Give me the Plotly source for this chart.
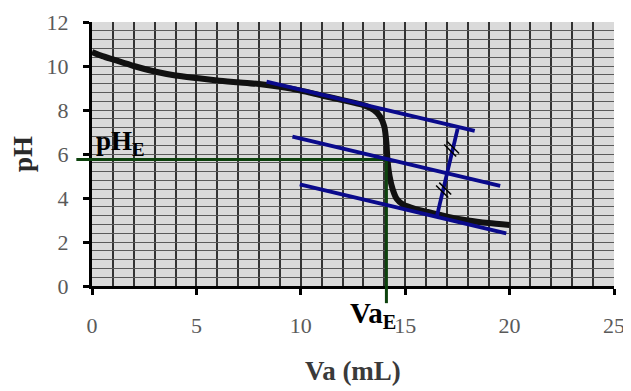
import plotly.graph_objects as go

# Titration curve
va = [0, 0.5, 1, 2, 3, 4, 5, 6, 7, 8, 9, 10, 11, 12, 13, 13.5, 13.8, 14.0, 14.1, 14.15,
      14.25, 14.4, 14.6, 14.9, 15.5, 16, 17, 18, 19, 20]
ph = [10.64, 10.45, 10.3, 10.0, 9.75, 9.57, 9.45, 9.34, 9.26, 9.18, 9.05, 8.88, 8.66, 8.45,
      8.22, 8.0, 7.7, 7.25, 6.5, 5.75, 5.0, 4.4, 3.95, 3.7, 3.5, 3.38, 3.15, 2.98, 2.86, 2.77]

# Equivalence point
va_e = 14.1
ph_e = 5.75

# Parallel tangent lines (x0, x1), (y0, y1)
tan_upper_x = [8.36, 18.33]
tan_upper_y = [9.29, 7.05]
tan_mid_x = [9.6, 19.55]
tan_mid_y = [6.79, 4.55]
tan_lower_x = [9.95, 19.84]
tan_lower_y = [4.62, 2.39]
perp_x = [17.51, 16.51]
perp_y = [7.14, 3.14]

# Equal-length hatch marks (double ticks)
hatch_x = [[17.01, 17.58], [16.87, 17.44], [16.63, 17.20], [16.48, 17.06]]
hatch_y = [[6.57, 6.02], [6.43, 5.89], [4.70, 4.16], [4.57, 4.02]]

x_ticks = [0, 5, 10, 15, 20, 25]
y_ticks = [0, 2, 4, 6, 8, 10, 12]

BLUE = "#0a0a8c"
GREEN = "#0d420d"
SERIF = "Liberation Serif"

fig = go.Figure()

fig.add_trace(go.Scatter(x=va, y=ph, mode="lines", line=dict(color="#111111", width=6, shape="spline", smoothing=0.6),
                         hoverinfo="skip"))

# green guide lines (inside plot)
fig.add_trace(go.Scatter(x=[0, va_e], y=[ph_e, ph_e], mode="lines", line=dict(color=GREEN, width=3)))
fig.add_trace(go.Scatter(x=[va_e, va_e], y=[0, ph_e], mode="lines", line=dict(color=GREEN, width=3)))

for xs, ys in [(tan_upper_x, tan_upper_y), (tan_mid_x, tan_mid_y), (tan_lower_x, tan_lower_y), (perp_x, perp_y)]:
    fig.add_trace(go.Scatter(x=xs, y=ys, mode="lines", line=dict(color=BLUE, width=3.8)))

for xs, ys in zip(hatch_x, hatch_y):
    fig.add_trace(go.Scatter(x=xs, y=ys, mode="lines", line=dict(color="black", width=1.5)))

# green stubs extending outside the axes
fig.add_shape(type="line", xref="paper", yref="y", x0=-0.03, x1=0, y0=ph_e, y1=ph_e,
              line=dict(color=GREEN, width=3), layer="above")
fig.add_shape(type="line", xref="x", yref="paper", x0=va_e, x1=va_e, y0=-0.065, y1=0,
              line=dict(color=GREEN, width=3), layer="above")

fig.add_annotation(x=0.1, y=ph_e, xref="x", yref="y", text="pH<sub>E</sub>", showarrow=False,
                   xanchor="left", yanchor="bottom", yshift=-2,
                   font=dict(family=SERIF, size=27, color="black", weight="bold"))
fig.add_annotation(x=va_e, y=-0.035, xref="x", yref="paper", text="Va<sub>E</sub>", showarrow=False,
                   xanchor="right", yanchor="top", xshift=12,
                   font=dict(family=SERIF, size=29, color="black", weight="bold"))

fig.update_layout(
    width=631, height=391,
    margin=dict(l=84, r=25, t=14, b=113, autoexpand=False),
    paper_bgcolor="white",
    plot_bgcolor="#dadada",
    showlegend=False,
    xaxis=dict(range=[0, 25], tickvals=x_ticks, ticktext=[str(v) for v in x_ticks],
               automargin=False,
               showline=True, linecolor="black", linewidth=3, mirror=False,
               ticks="outside", ticklen=6, tickwidth=3, tickcolor="black",
               ticklabelstandoff=12,
               tickfont=dict(family=SERIF, size=22, color="#5a5a5a"),
               showgrid=True, gridcolor="#333333", gridwidth=1.5, zeroline=False,
               minor=dict(dtick=1, showgrid=True, gridcolor="#333333", gridwidth=1.5, ticks=""),
               title=dict(text="<b>Va (mL)</b>", font=dict(family=SERIF, size=27, color="#3a3a3a"), standoff=24),
               fixedrange=True),
    yaxis=dict(range=[0, 12], tickvals=y_ticks, ticktext=[str(v) for v in y_ticks],
               automargin=False,
               showline=True, linecolor="black", linewidth=3,
               ticks="outside", ticklen=6, tickwidth=3, tickcolor="black",
               ticklabelstandoff=10,
               tickfont=dict(family=SERIF, size=22, color="#5a5a5a"),
               showgrid=True, gridcolor="#5a5a5a", gridwidth=1, zeroline=False,
               minor=dict(dtick=0.4, showgrid=True, gridcolor="#5a5a5a", gridwidth=1, ticks=""),
               title=dict(text="<b>pH</b>", font=dict(family=SERIF, size=27, color="#2a2a2a"), standoff=7),
               fixedrange=True),
)

fig.write_html("out.html")
